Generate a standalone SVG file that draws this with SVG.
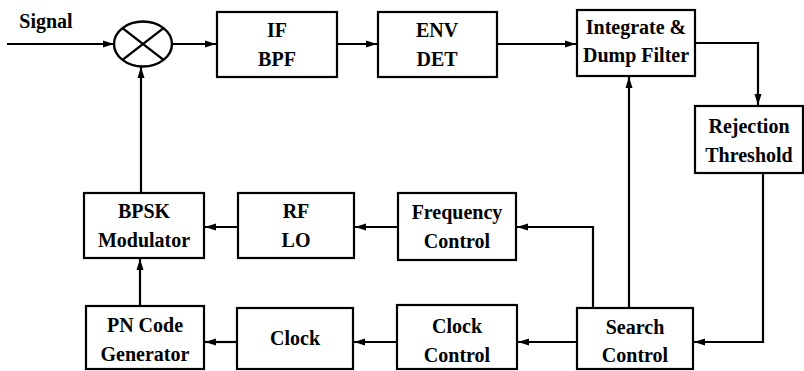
<svg xmlns="http://www.w3.org/2000/svg" width="804" height="371" viewBox="0 0 804 371">
<defs>
<marker id="ah" markerUnits="userSpaceOnUse" markerWidth="12" markerHeight="10" viewBox="0 0 12 10" refX="11" refY="5" orient="auto">
<path d="M0,1.5 L11,5 L0,8.5 Z" fill="#000"/>
</marker>
</defs>
<rect width="804" height="371" fill="#fff"/>
<g style="font-family:'Liberation Serif','Times New Roman',Times,serif;font-weight:700;font-size:20px" text-anchor="middle" fill="#000">
<text x="46" y="28">Signal</text>
<g id="mixer">
<ellipse cx="143" cy="44" rx="29" ry="22.5" fill="#fff" stroke="#000" stroke-width="2.4"/>
<path d="M122.5,28.1 L163.5,59.9 M163.5,28.1 L122.5,59.9" stroke="#000" stroke-width="2.4"/>
</g>
<g id="ifbpf"><rect x="217" y="12" width="120" height="65" fill="#fff" stroke="#000" stroke-width="2.2"/><text x="277" y="37">IF</text><text x="277" y="66">BPF</text></g>
<g id="envdet"><rect x="378" y="12" width="119" height="65" fill="#fff" stroke="#000" stroke-width="2.2"/><text x="437" y="37">ENV</text><text x="437" y="66">DET</text></g>
<g id="integrate"><rect x="577" y="10" width="118" height="66" fill="#fff" stroke="#000" stroke-width="2.2"/><text x="636" y="34">Integrate &amp;</text><text x="636" y="62">Dump Filter</text></g>
<g id="rejection"><rect x="695" y="106" width="108" height="67" fill="#fff" stroke="#000" stroke-width="2.2"/><text x="749" y="133">Rejection</text><text x="749" y="162">Threshold</text></g>
<g id="bpsk"><rect x="84" y="193" width="120" height="65" fill="#fff" stroke="#000" stroke-width="2.2"/><text x="144" y="218">BPSK</text><text x="144" y="247">Modulator</text></g>
<g id="rflo"><rect x="238" y="193" width="116" height="65" fill="#fff" stroke="#000" stroke-width="2.2"/><text x="296" y="218">RF</text><text x="296" y="247">LO</text></g>
<g id="freq"><rect x="398" y="193" width="118" height="67" fill="#fff" stroke="#000" stroke-width="2.2"/><text x="457" y="219">Frequency</text><text x="457" y="248">Control</text></g>
<g id="pncode"><rect x="86" y="306" width="118" height="63" fill="#fff" stroke="#000" stroke-width="2.2"/><text x="145" y="332">PN Code</text><text x="145" y="361">Generator</text></g>
<g id="clock"><rect x="237" y="308" width="116" height="61" fill="#fff" stroke="#000" stroke-width="2.2"/><text x="295" y="345">Clock</text></g>
<g id="clockctl"><rect x="397" y="305" width="120" height="64" fill="#fff" stroke="#000" stroke-width="2.2"/><text x="457" y="333">Clock</text><text x="457" y="362">Control</text></g>
<g id="search"><rect x="577" y="308" width="116" height="61" fill="#fff" stroke="#000" stroke-width="2.2"/><text x="635" y="334">Search</text><text x="635" y="362">Control</text></g>
</g>
<g id="connectors" fill="none" stroke="#000" stroke-width="2.2">
<path marker-end="url(#ah)" d="M7,44 L114,44"/>
<path marker-end="url(#ah)" d="M172,44 L216,44"/>
<path marker-end="url(#ah)" d="M337,44 L377,44"/>
<path marker-end="url(#ah)" d="M497,44 L576,44"/>
<path marker-end="url(#ah)" d="M695,43 L758,43 L758,105"/>
<path marker-end="url(#ah)" d="M763,173 L763,342 L694,342"/>
<path marker-end="url(#ah)" d="M629,308 L629,77"/>
<path marker-end="url(#ah)" d="M593,308 L593,227 L517,227"/>
<path marker-end="url(#ah)" d="M577,342 L518,342"/>
<path marker-end="url(#ah)" d="M397,342 L354,342"/>
<path marker-end="url(#ah)" d="M237,342 L205,342"/>
<path marker-end="url(#ah)" d="M140,306 L140,259"/>
<path marker-end="url(#ah)" d="M398,227 L355,227"/>
<path marker-end="url(#ah)" d="M238,227 L205,227"/>
<path marker-end="url(#ah)" d="M141,193 L141,67"/>
</g>
</svg>
